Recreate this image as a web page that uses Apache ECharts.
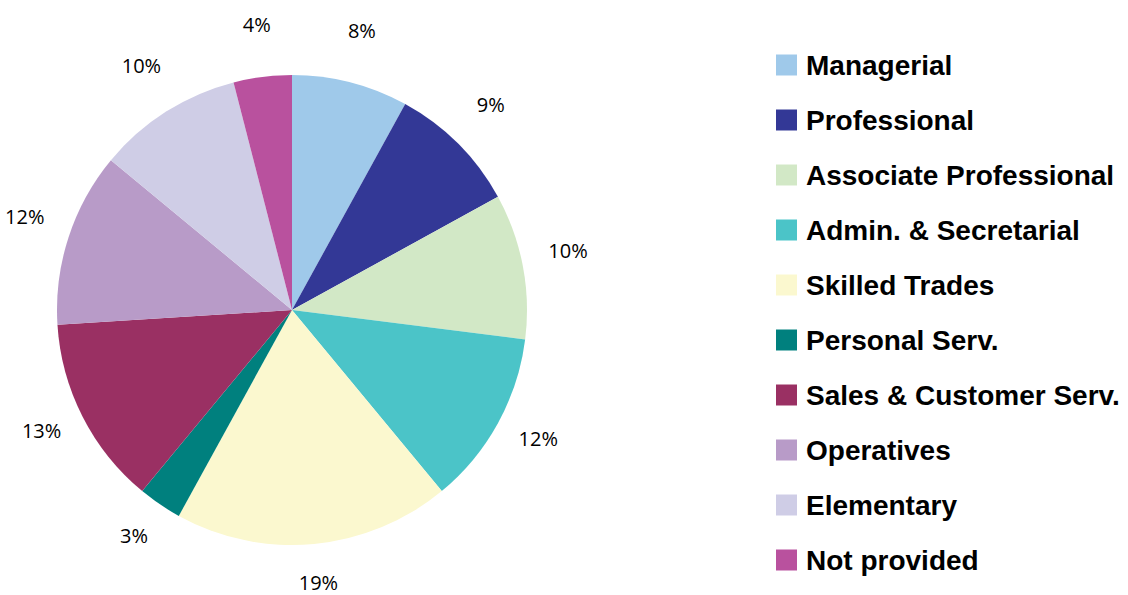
<!DOCTYPE html>
<html>
<head>
<meta charset="utf-8">
<script src="https://cdn.jsdelivr.net/npm/echarts@6/dist/echarts.min.js"></script>
<style>
    html, body {margin: 0; padding: 0; background: #fff;}
    #chart {width: 1128px; height: 595px;}
</style>
</head>
<body>
<div id="chart"></div>
<script>
const categories = [
    'Managerial',
    'Professional',
    'Associate Professional',
    'Admin. & Secretarial',
    'Skilled Trades',
    'Personal Serv.',
    'Sales & Customer Serv.',
    'Operatives',
    'Elementary',
    'Not provided',
];
const shares = [8, 9, 10, 12, 19, 3, 13, 12, 10, 4];
const colors = [
    '#9fc9ea', '#333896', '#d2e8c6', '#4bc4c8', '#fbf8cf',
    '#00807e', '#9a3063', '#b89bc8', '#cfcde6', '#b9519e',
];

const chart = echarts.init(document.getElementById('chart'), null, {renderer: 'svg'});
const data = categories.map((name, i) => ({name, value: shares[i]}));
const center = [292, 310];

chart.setOption({
    animation: false,
    color: colors,
    legend: {
        orient: 'vertical',
        left: 776,
        top: 51,
        padding: 0,
        icon: 'rect',
        itemWidth: 21,
        itemHeight: 21,
        itemGap: 27,
        selectedMode: false,
        textStyle: {
            fontFamily: 'Liberation Sans',
            fontWeight: 'bold',
            fontSize: 28,
            lineHeight: 28,
            color: '#000',
            padding: [0, 0, 0, 4],
        },
        data: categories,
    },
    series: [{
        type: 'pie',
        center,
        radius: 235,
        startAngle: 90,
        clockwise: true,
        silent: true,
        label: {show: false},
        labelLine: {show: false},
        data,
    }, {
        // invisible ring that only carries the percent labels
        type: 'pie',
        center,
        radius: [236, 320],
        startAngle: 90,
        clockwise: true,
        silent: true,
        itemStyle: {color: 'rgba(0,0,0,0)'},
        label: {
            show: true,
            position: 'inside',
            offset: [0, -7],
            formatter: p => p.value + '%',
            fontFamily: 'Open Sans',
            fontSize: 20,
            lineHeight: 22,
            color: '#000',
        },
        labelLine: {show: false},
        data,
    }],
});
</script>
</body>
</html>
